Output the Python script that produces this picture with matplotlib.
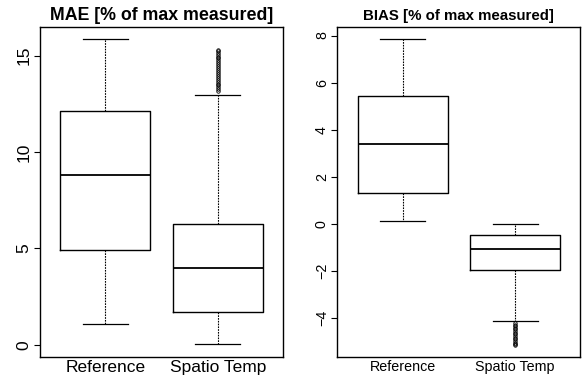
import matplotlib
matplotlib.use("Agg")
import matplotlib.pyplot as plt

plt.rcParams['font.family'] = ['Liberation Sans', 'DejaVu Sans']

groups = ["Reference", "Spatio Temp"]

# MAE [% of max measured]: whisker low, Q1, median, Q3, whisker high
mae_stats = [
    [1.07, 4.90, 8.79, 12.14, 15.87],
    [0.05, 1.71, 3.97, 6.28, 12.97],
]
mae_fliers = [
    [],
    [13.15, 13.25, 13.35, 13.45, 13.55, 13.65, 13.75, 13.85, 13.95, 14.05,
     14.15, 14.25, 14.35, 14.45, 14.55, 14.65, 14.75, 14.85, 14.95, 15.05,
     15.15, 15.25, 15.31],
]

# BIAS [% of max measured]
bias_stats = [
    [0.10, 1.32, 3.39, 5.43, 7.85],
    [-4.13, -1.97, -1.09, -0.47, -0.01],
]
bias_fliers = [
    [],
    [-4.21, -4.28, -4.35, -4.42, -4.49, -4.56, -4.63, -4.70, -4.77, -4.84,
     -4.91, -4.98, -5.05, -5.12, -5.17],
]


def make_stats(stats, fliers):
    out = []
    for (lo, q1, med, q3, hi), fl in zip(stats, fliers):
        out.append(dict(whislo=lo, q1=q1, med=med, q3=q3, whishi=hi,
                        fliers=fl, label=""))
    return out


def draw(ax, stats, fliers, yticks, ylim, title, tsize, lsize):
    ax.bxp(make_stats(stats, fliers), positions=[1, 2], widths=0.8,
           showfliers=True,
           boxprops=dict(color="black", lw=1.0),
           medianprops=dict(color="black", lw=1.3),
           whiskerprops=dict(color="black", lw=0.8, linestyle=(0, (1.5, 1))),
           capprops=dict(color="black", lw=0.9),
           capwidths=0.4,
           flierprops=dict(marker="o", markersize=2.5, markerfacecolor="none",
                           markeredgecolor="black", markeredgewidth=0.6))
    ax.set_xlim(0.42, 2.58)
    ax.set_ylim(*ylim)
    ax.set_yticks(yticks)
    ax.set_yticklabels([str(t).replace("-", "\u2212") for t in yticks],
                       rotation=90, va="center", fontsize=lsize)
    ax.set_xticks([1, 2])
    ax.set_xticklabels(groups, fontsize=lsize)
    ax.tick_params(axis="x", length=0, pad=2)
    ax.tick_params(axis="y", length=4, width=0.8, pad=2)
    for s in ax.spines.values():
        s.set_linewidth(1.0)
    ax.set_title(title, fontsize=tsize, fontweight="bold", pad=5)


fig = plt.figure(figsize=(5.84, 3.81), dpi=100)
ax1 = fig.add_axes([0.0685, 0.063, 0.4161, 0.866])
ax2 = fig.add_axes([0.5776, 0.063, 0.4161, 0.866])

draw(ax1, mae_stats, mae_fliers, [0, 5, 10, 15], (-0.63, 16.48),
     "MAE [% of max measured]", 12.8, 12.5)
draw(ax2, bias_stats, bias_fliers, [-4, -2, 0, 2, 4, 6, 8], (-5.66, 8.36),
     "BIAS [% of max measured]", 10.8, 10.3)

fig.savefig("out.png", dpi=100)
